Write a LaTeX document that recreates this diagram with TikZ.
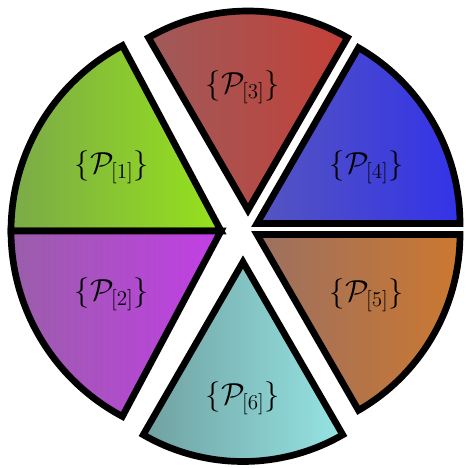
\documentclass[tikz,border=0pt]{standalone}
\usepackage{amsmath,amssymb}
\usepackage{xcolor}
\usepackage{tikz}

\definecolor{limeL}{HTML}{7BAA48}
\definecolor{limeR}{HTML}{96E21C}
\definecolor{violetL}{HTML}{9A5EAA}
\definecolor{violetR}{HTML}{C23EE6}
\definecolor{brickL}{HTML}{9E5A5A}
\definecolor{brickR}{HTML}{C44038}
\definecolor{royalL}{HTML}{5555C0}
\definecolor{royalR}{HTML}{3333E8}
\definecolor{copperL}{HTML}{9C7060}
\definecolor{copperR}{HTML}{CC7830}
\definecolor{aquaL}{HTML}{70A0A0}
\definecolor{aquaR}{HTML}{96E4E4}

\begin{document}
\begin{tikzpicture}[
  x=0.02cm,y=0.02cm,
  sector/.style={draw=black,line width=3.8pt},
  every node/.style={font=\LARGE}
]
  \useasboundingbox (0,0) rectangle (466,468);

  \draw[sector,left color=limeL,right color=limeR]
    (221,237) -- ++(118:210) arc[start angle=118,end angle=180,radius=210] -- cycle;
  \draw[sector,left color=violetL,right color=violetR]
    (221,237) -- ++(180:210) arc[start angle=180,end angle=242,radius=210] -- cycle;
  \draw[sector,left color=brickL,right color=brickR]
    (248,258) -- ++(60:199) arc[start angle=60,end angle=120,radius=199] -- cycle;
  \draw[sector,left color=royalL,right color=royalR]
    (257,244.5) -- ++(0:203) arc[start angle=0,end angle=60,radius=203] -- cycle;
  \draw[sector,left color=copperL,right color=copperR]
    (257,233.5) -- ++(-60:203) arc[start angle=-60,end angle=0,radius=203] -- cycle;
  \draw[sector,left color=aquaL,right color=aquaR]
    (243,206) -- ++(240:199.5) arc[start angle=240,end angle=300,radius=199.5] -- cycle;

  \node (part-1) at (112,301) {$\{\mathcal{P}_{[1]}\}$};
  \node (part-2) at (112,174) {$\{\mathcal{P}_{[2]}\}$};
  \node (part-3) at (243,381) {$\{\mathcal{P}_{[3]}\}$};
  \node (part-4) at (367,301) {$\{\mathcal{P}_{[4]}\}$};
  \node (part-5) at (367,173) {$\{\mathcal{P}_{[5]}\}$};
  \node (part-6) at (243,70) {$\{\mathcal{P}_{[6]}\}$};
\end{tikzpicture}
\end{document}
